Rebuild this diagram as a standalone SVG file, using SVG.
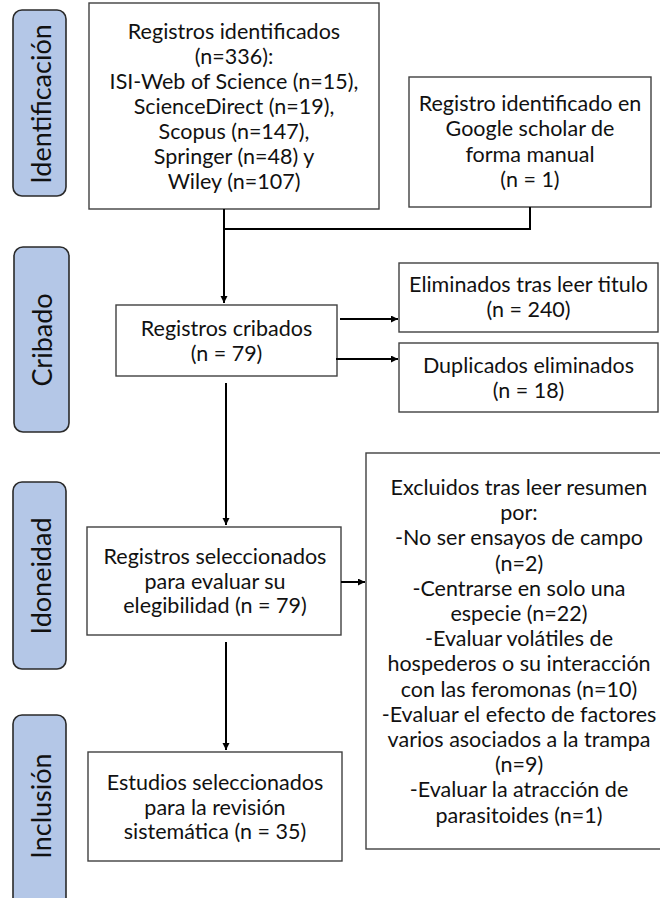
<svg xmlns="http://www.w3.org/2000/svg" width="660" height="898" viewBox="0 0 660 898">
<defs>
<style>
.box{fill:#ffffff;stroke:#404040;stroke-width:1.4}
.lab{fill:#b4c7e7;stroke:#2a2a2a;stroke-width:1.6}
.t{font-family:Lato,"Open Sans","Liberation Sans",sans-serif;font-size:21.5px;fill:#111111;text-anchor:middle}
.lt{font-family:Lato,"Open Sans","Liberation Sans",sans-serif;font-size:27px;fill:#111111;text-anchor:middle;dominant-baseline:central}
.c{fill:none;stroke:#000;stroke-width:2}
</style>
<marker id="ah" markerUnits="userSpaceOnUse" markerWidth="8" markerHeight="8" refX="7" refY="3.5" orient="auto">
<path d="M0,0 L7,3.5 L0,7 z" fill="#000"/>
</marker>
</defs>
<rect width="660" height="898" fill="#ffffff"/>

<g id="lab-identificacion">
<rect class="lab" x="13" y="10" width="53" height="186" rx="9"/>
<text class="lt" transform="translate(40,104) rotate(-90)">Identificación</text>
</g>
<g id="lab-cribado">
<rect class="lab" x="14" y="247" width="55" height="185" rx="9"/>
<text class="lt" transform="translate(41,340) rotate(-90)">Cribado</text>
</g>
<g id="lab-idoneidad">
<rect class="lab" x="13" y="482" width="53" height="187" rx="9"/>
<text class="lt" transform="translate(40,576) rotate(-90)">Idoneidad</text>
</g>
<g id="lab-inclusion">
<rect class="lab" x="13" y="715" width="53" height="195" rx="9"/>
<text class="lt" transform="translate(40,806) rotate(-90)">Inclusión</text>
</g>

<g id="n-identificados">
<rect class="box" x="89" y="3" width="290" height="206"/>
<text class="t" x="234" y="39">Registros identificados</text>
<text class="t" x="234" y="64">(n=336):</text>
<text class="t" x="234" y="89">ISI-Web of Science (n=15),</text>
<text class="t" x="234" y="114">ScienceDirect (n=19),</text>
<text class="t" x="234" y="139">Scopus (n=147),</text>
<text class="t" x="234" y="164">Springer (n=48) y</text>
<text class="t" x="234" y="189">Wiley (n=107)</text>
</g>

<g id="n-google">
<rect class="box" x="409" y="77" width="242" height="130"/>
<text class="t" x="530" y="111">Registro identificado en</text>
<text class="t" x="530" y="136.3">Google scholar de</text>
<text class="t" x="530" y="161.6">forma manual</text>
<text class="t" x="530" y="187">(n = 1)</text>
</g>

<g id="n-cribados">
<rect class="box" x="116" y="305" width="221" height="71"/>
<text class="t" x="226.5" y="336">Registros cribados</text>
<text class="t" x="226.5" y="361">(n = 79)</text>
</g>

<g id="n-eliminados">
<rect class="box" x="399" y="263" width="259" height="69"/>
<text class="t" x="528.5" y="292">Eliminados tras leer titulo</text>
<text class="t" x="528.5" y="317">(n = 240)</text>
</g>

<g id="n-duplicados">
<rect class="box" x="399" y="343" width="259" height="69"/>
<text class="t" x="528.5" y="373">Duplicados eliminados</text>
<text class="t" x="528.5" y="398">(n = 18)</text>
</g>

<g id="n-seleccionados">
<rect class="box" x="87" y="527" width="254" height="108"/>
<text class="t" x="215" y="564">Registros seleccionados</text>
<text class="t" x="215" y="589">para evaluar su</text>
<text class="t" x="215" y="613">elegibilidad (n = 79)</text>
</g>

<g id="n-estudios">
<rect class="box" x="88" y="752" width="254" height="109"/>
<text class="t" x="215" y="790">Estudios seleccionados</text>
<text class="t" x="215" y="815">para la revisión</text>
<text class="t" x="215" y="839">sistemática (n = 35)</text>
</g>

<g id="n-excluidos">
<rect class="box" x="366" y="453" width="310" height="396"/>
<text class="t" x="519" y="495">Excluidos tras leer resumen</text>
<text class="t" x="519" y="520.2">por:</text>
<text class="t" x="519" y="545.4">-No ser ensayos de campo</text>
<text class="t" x="519" y="570.6">(n=2)</text>
<text class="t" x="519" y="595.8">-Centrarse en solo una</text>
<text class="t" x="519" y="621">especie (n=22)</text>
<text class="t" x="519" y="646.2">-Evaluar volátiles de</text>
<text class="t" x="519" y="671.4">hospederos o su interacción</text>
<text class="t" x="519" y="696.6">con las feromonas (n=10)</text>
<text class="t" x="519" y="721.8">-Evaluar el efecto de factores</text>
<text class="t" x="519" y="747">varios asociados a la trampa</text>
<text class="t" x="519" y="772.2">(n=9)</text>
<text class="t" x="519" y="797.4">-Evaluar la atracción de</text>
<text class="t" x="519" y="822.6">parasitoides (n=1)</text>
</g>

<g id="connectors">
<path class="c" d="M224 209 V303" marker-end="url(#ah)"/>
<path class="c" d="M224 229 H530 V207"/>
<path class="c" d="M340 319 H398" marker-end="url(#ah)"/>
<path class="c" d="M336 359 H398" marker-end="url(#ah)"/>
<path class="c" d="M226 383 V525" marker-end="url(#ah)"/>
<path class="c" d="M341 582 H365" marker-end="url(#ah)"/>
<path class="c" d="M226 642 V750" marker-end="url(#ah)"/>
</g>
</svg>
